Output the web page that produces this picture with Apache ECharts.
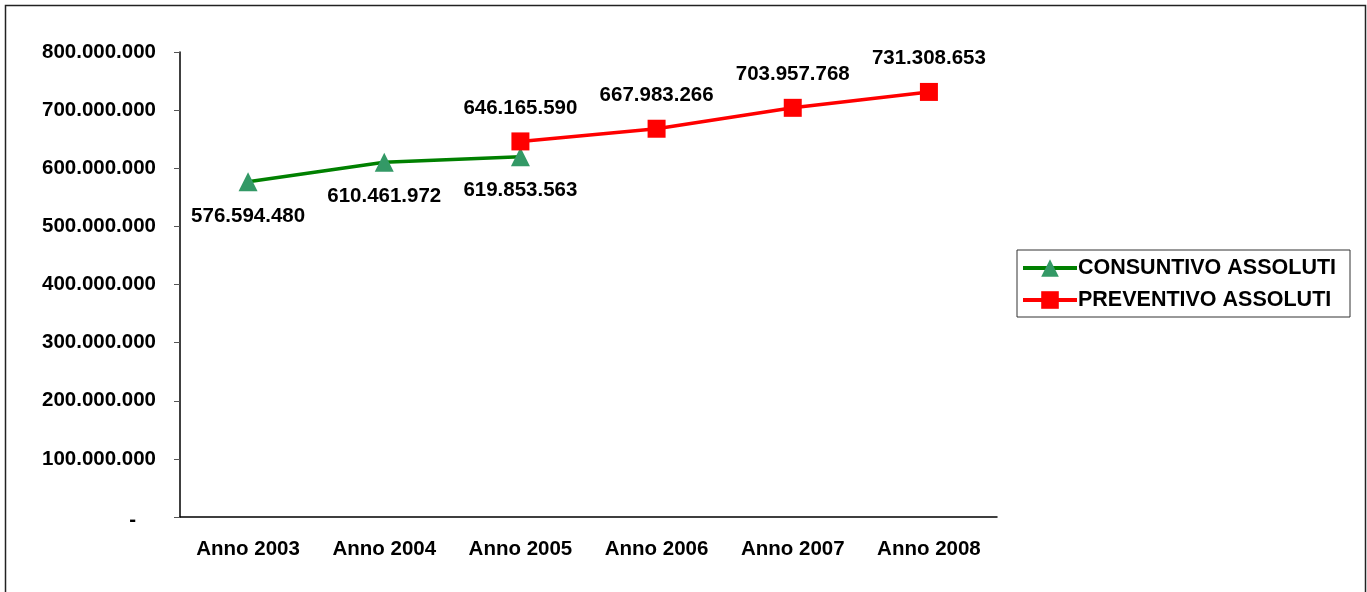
<!DOCTYPE html>
<html>
<head>
<meta charset="utf-8">
<script src="https://cdn.jsdelivr.net/npm/echarts@6/dist/echarts.min.js"></script>
<style>
html,body{margin:0;padding:0;background:#fff;}
#c{width:1367px;height:592px;}
</style>
</head>
<body>
<div id="c"></div>
<script>
var categories = ['Anno 2003','Anno 2004','Anno 2005','Anno 2006','Anno 2007','Anno 2008'];
var consuntivo = [576594480, 610461972, 619853563, '-', '-', '-'];
var preventivo = ['-', '-', 646165590, 667983266, 703957768, 731308653];
var seriesNames = ['CONSUNTIVO ASSOLUTI', 'PREVENTIVO ASSOLUTI'];

function fmt(v){
  if (v === 0) return '-';
  return String(Math.round(v)).replace(/\B(?=(\d{3})+(?!\d))/g, '.');
}
var FONT = 'Liberation Sans, Arial, sans-serif';
var chart = echarts.init(document.getElementById('c'));
chart.setOption({
  animation:false,
  backgroundColor:'#fff',
  graphic:[{type:'rect', shape:{x:5.5,y:5.5,width:1360,height:600}, style:{fill:'none', stroke:'#222', lineWidth:1.5}, z:-1}],
  grid:{left:180, right:370, top:52, bottom:75},
  legend:{
    orient:'vertical', left:1017, top:250, width:333,
    padding:[7,14,6,4], itemGap:10,
    borderColor:'#333', borderWidth:1,
    itemWidth:54, itemHeight:22,
    lineStyle:{width:4},
    textStyle:{fontFamily:FONT, fontWeight:'bold', fontSize:21.5, color:'#000', padding:[0,0,0,-4]},
    data:seriesNames
  },
  xAxis:{
    type:'category', data:categories, boundaryGap:true,
    axisLine:{lineStyle:{color:'#000', width:1.5}},
    axisTick:{show:false},
    axisLabel:{color:'#000', fontFamily:FONT, fontWeight:'bold', fontSize:20.5, margin:22}
  },
  yAxis:{
    type:'value', min:0, max:800000000, interval:100000000,
    axisLine:{show:true, lineStyle:{color:'#000', width:1.5}},
    axisTick:{show:true, length:6, lineStyle:{color:'#555'}},
    splitLine:{show:false},
    axisLabel:{color:'#000', fontFamily:FONT, fontWeight:'bold', fontSize:20.5, margin:24,
      formatter:function(v){ return v === 0 ? '{d|-}' : fmt(v); },
      rich:{d:{fontFamily:FONT, fontWeight:'bold', fontSize:20.5, color:'#000', padding:[6,20,0,0]}}}
  },
  series:[
    {name:seriesNames[0], type:'line', data:consuntivo, symbol:'triangle', symbolSize:19,
     lineStyle:{color:'#008000', width:3.5}, itemStyle:{color:'#339966'},
     label:{show:true, position:'bottom', distance:14, color:'#000', fontFamily:FONT, fontWeight:'bold', fontSize:20.5, formatter:function(p){return fmt(p.value);}}},
    {name:seriesNames[1], type:'line', data:preventivo, symbol:'rect', symbolSize:18,
     lineStyle:{color:'#FF0000', width:3.5}, itemStyle:{color:'#FF0000'},
     label:{show:true, position:'top', distance:14, color:'#000', fontFamily:FONT, fontWeight:'bold', fontSize:20.5, formatter:function(p){return fmt(p.value);}}}
  ]
});
</script>
</body>
</html>
